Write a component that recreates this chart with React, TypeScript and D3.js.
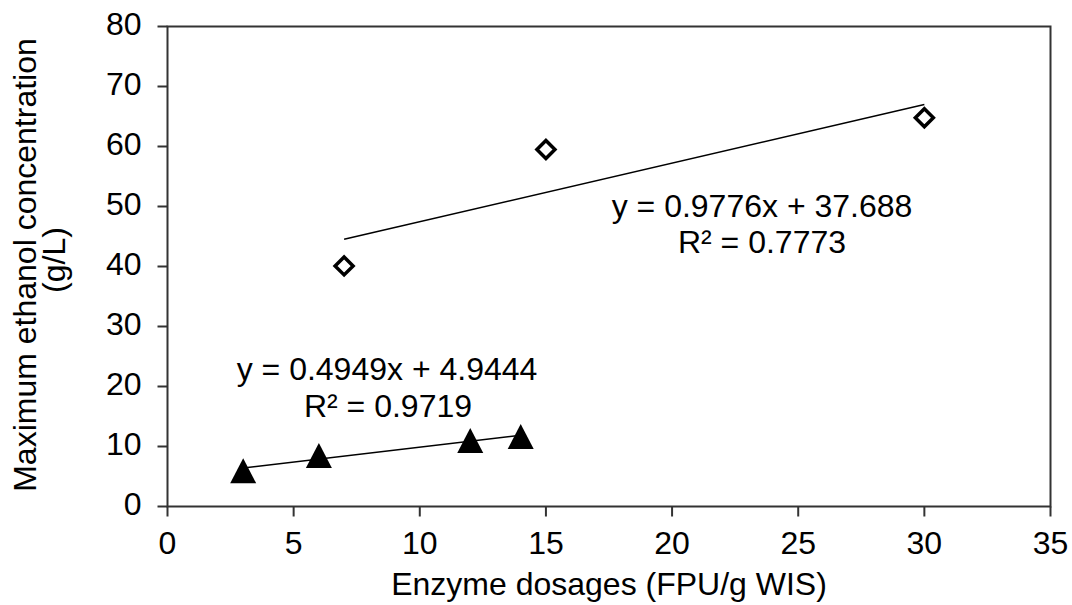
import React from "react";
import * as d3 from "d3";

// Enzyme dosage (FPU/g WIS) vs. maximum ethanol concentration (g/L)
const triangleX = [3, 6, 12, 14];
const triangleY = [5.95, 8.5, 11.0, 11.65];
const diamondX = [7, 15, 30];
const diamondY = [40.1, 59.5, 64.8];

// Linear trend lines (slope, intercept, fitted range)
const triangleFit = { slope: 0.4949, intercept: 4.9444, from: 3, to: 14 };
const diamondFit = { slope: 0.9776, intercept: 37.688, from: 7, to: 30 };

const triangleLabel = ["y = 0.4949x + 4.9444", "R² = 0.9719"];
const diamondLabel = ["y = 0.9776x + 37.688", "R² = 0.7773"];

const xTicks = [0, 5, 10, 15, 20, 25, 30, 35];
const yTicks = [0, 10, 20, 30, 40, 50, 60, 70, 80];

const xTitle = "Enzyme dosages (FPU/g WIS)";
const yTitle = ["Maximum ethanol concentration", "(g/L)"];

const W = 1072;
const H = 605;
const FONT = "'Liberation Sans', Arial, sans-serif";
const FS = 32;

export default function App() {
  const x = d3.scaleLinear().domain([0, 35]).range([167.5, 1050.5]);
  const y = d3.scaleLinear().domain([0, 80]).range([506.5, 26.5]);
  const axisColor = "#333";

  const fitLine = (f: { slope: number; intercept: number; from: number; to: number }) =>
    d3.line<number>()
      .x((d) => x(d))
      .y((d) => y(f.slope * d + f.intercept))([f.from, f.to]) || "";

  // filled triangle centred on its bounding box, open diamond
  const triPath = "M0,-12.5L13,12.5L-13,12.5Z";
  const diaPath = "M0,-9L9,0L0,9L-9,0Z";

  return (
    <svg
      width={W}
      height={H}
      style={{ position: "absolute", left: 0, top: 0, background: "#fff" }}
      fontFamily={FONT}
    >
      <rect width={W} height={H} fill="#fff" />

      {/* plot frame */}
      <rect
        x={x(0)}
        y={y(80)}
        width={x(35) - x(0)}
        height={y(0) - y(80)}
        fill="none"
        stroke={axisColor}
        strokeWidth={2}
      />

      {/* y ticks */}
      {yTicks.map((t) => (
        <g key={"y" + t}>
          <line x1={x(0) - 10} x2={x(0)} y1={y(t)} y2={y(t)} stroke={axisColor} strokeWidth={2} />
          <text x={x(0) - 26} y={y(t) + 8} textAnchor="end" fontSize={FS} fill="#000">
            {t}
          </text>
        </g>
      ))}

      {/* x ticks */}
      {xTicks.map((t) => (
        <g key={"x" + t}>
          <line x1={x(t)} x2={x(t)} y1={y(0)} y2={y(0) + 10} stroke={axisColor} strokeWidth={2} />
          <text x={x(t)} y={554} textAnchor="middle" fontSize={FS} fill="#000">
            {t}
          </text>
        </g>
      ))}

      {/* axis titles */}
      <text x={609} y={595} textAnchor="middle" fontSize={FS} fill="#000">
        {xTitle}
      </text>
      <g transform="translate(36,265) rotate(-90)">
        <text x={0} y={0} textAnchor="middle" fontSize={FS} fill="#000">
          {yTitle[0]}
        </text>
        <text x={5} y={29} textAnchor="middle" fontSize={FS} fill="#000">
          {yTitle[1]}
        </text>
      </g>

      {/* trend lines */}
      <path d={fitLine(diamondFit)} stroke="#000" strokeWidth={1.5} fill="none" />
      <path d={fitLine(triangleFit)} stroke="#000" strokeWidth={1.5} fill="none" />

      {/* markers */}
      {triangleX.map((v, i) => (
        <path
          key={"t" + i}
          d={triPath}
          transform={`translate(${x(v)},${y(triangleY[i])})`}
          fill="#000"
        />
      ))}
      {diamondX.map((v, i) => (
        <path
          key={"d" + i}
          d={diaPath}
          transform={`translate(${x(v)},${y(diamondY[i])})`}
          fill="#fff"
          stroke="#000"
          strokeWidth={3.5}
        />
      ))}

      {/* regression labels */}
      <text x={762} y={217} textAnchor="middle" fontSize={FS} fill="#000">
        {diamondLabel[0]}
      </text>
      <text x={762} y={253} textAnchor="middle" fontSize={FS} fill="#000">
        {diamondLabel[1]}
      </text>
      <text x={387} y={380} textAnchor="middle" fontSize={FS} fill="#000">
        {triangleLabel[0]}
      </text>
      <text x={388} y={417} textAnchor="middle" fontSize={FS} fill="#000">
        {triangleLabel[1]}
      </text>
    </svg>
  );
}
